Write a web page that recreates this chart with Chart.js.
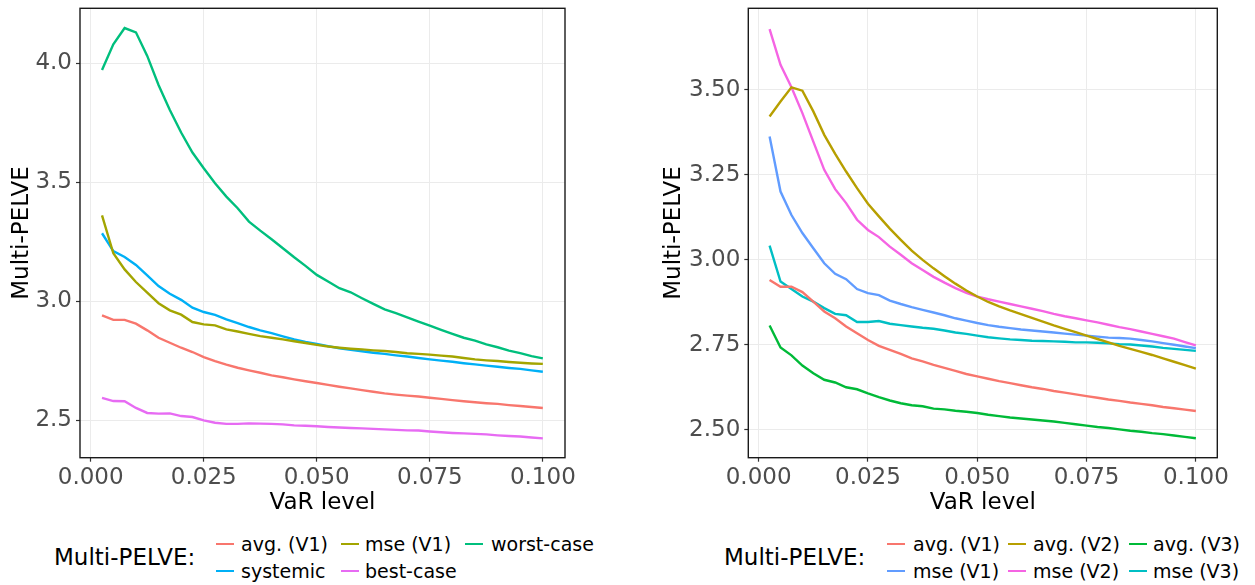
<!DOCTYPE html>
<html>
<head>
<meta charset="utf-8">
<script src="https://cdn.jsdelivr.net/npm/chart.js@4.4.1/dist/chart.umd.min.js"></script>
<style>
  body { margin: 0; background: #fff; font-family: "DejaVu Sans", sans-serif; }
  #wrap { position: relative; width: 1255px; height: 585px; overflow: hidden; }
  .panel { position: absolute; top: 0; }
  .leg-title { position: absolute; font-size: 23px; color: #000; line-height: 28px; white-space: nowrap; }
  .leg-key { position: absolute; width: 18px; height: 2.6px; }
  .leg-text { position: absolute; font-size: 19px; color: #000; line-height: 24px; white-space: nowrap; }
</style>
</head>
<body>
<div id="wrap">
  <canvas id="left" class="panel" style="left:0px" width="610" height="518"></canvas>
  <canvas id="right" class="panel" style="left:640px" width="615" height="518"></canvas>
</div>
<script>
// VaR levels on the x axis
const varLevels = [0.0025, 0.005, 0.0075, 0.01, 0.0125, 0.015, 0.0175, 0.02, 0.0225, 0.025,
  0.0275, 0.03, 0.0325, 0.035, 0.0375, 0.04, 0.0425, 0.045, 0.0475, 0.05,
  0.0525, 0.055, 0.0575, 0.06, 0.0625, 0.065, 0.0675, 0.07, 0.0725, 0.075,
  0.0775, 0.08, 0.0825, 0.085, 0.0875, 0.09, 0.0925, 0.095, 0.0975, 0.1];
const xTicks = [0, 0.025, 0.05, 0.075, 0.1];

// left panel
const leftNames = ['avg. (V1)', 'mse (V1)', 'worst-case', 'systemic', 'best-case'];
const leftColors = ['#F8766D', '#A3A500', '#00BF7D', '#00B0F6', '#E76BF3'];
const avgV1Left = [2.941, 2.922, 2.922, 2.906, 2.878, 2.847, 2.826, 2.805, 2.787, 2.766,
  2.749, 2.734, 2.721, 2.710, 2.700, 2.689, 2.681, 2.672, 2.664, 2.657,
  2.649, 2.641, 2.634, 2.627, 2.620, 2.613, 2.608, 2.604, 2.600, 2.595,
  2.590, 2.585, 2.580, 2.576, 2.572, 2.569, 2.564, 2.560, 2.556, 2.552];
const mseV1Left = [3.361, 3.202, 3.134, 3.081, 3.036, 2.992, 2.962, 2.944, 2.913, 2.903,
  2.899, 2.882, 2.873, 2.863, 2.854, 2.847, 2.840, 2.832, 2.825, 2.817,
  2.810, 2.805, 2.801, 2.798, 2.794, 2.791, 2.787, 2.782, 2.779, 2.776,
  2.772, 2.768, 2.762, 2.756, 2.752, 2.749, 2.745, 2.742, 2.739, 2.737];
const worstLeft = [3.972, 4.080, 4.148, 4.130, 4.031, 3.909, 3.804, 3.709, 3.625, 3.559,
  3.496, 3.440, 3.391, 3.335, 3.297, 3.261, 3.223, 3.185, 3.149, 3.111,
  3.083, 3.055, 3.038, 3.013, 2.989, 2.966, 2.950, 2.933, 2.915, 2.898,
  2.880, 2.863, 2.847, 2.835, 2.819, 2.807, 2.793, 2.782, 2.770, 2.760];
const systemicLeft = [3.286, 3.211, 3.186, 3.153, 3.109, 3.064, 3.032, 3.006, 2.973, 2.955,
  2.943, 2.924, 2.908, 2.892, 2.878, 2.866, 2.853, 2.840, 2.829, 2.821,
  2.812, 2.803, 2.796, 2.790, 2.784, 2.779, 2.773, 2.768, 2.762, 2.756,
  2.751, 2.746, 2.740, 2.735, 2.730, 2.725, 2.720, 2.716, 2.710, 2.704];
const bestLeft = [2.594, 2.581, 2.580, 2.552, 2.531, 2.528, 2.529, 2.518, 2.514, 2.500,
  2.490, 2.485, 2.485, 2.487, 2.486, 2.485, 2.483, 2.479, 2.477, 2.475,
  2.472, 2.470, 2.468, 2.466, 2.464, 2.462, 2.460, 2.458, 2.457, 2.453,
  2.450, 2.447, 2.445, 2.443, 2.441, 2.437, 2.434, 2.432, 2.428, 2.424];
const leftTicks = [2.5, 3.0, 3.5, 4.0];

// right panel
const rightNames = ['avg. (V1)', 'avg. (V2)', 'avg. (V3)', 'mse (V1)', 'mse (V2)', 'mse (V3)'];
const rightColors = ['#F8766D', '#B79F00', '#00BA38', '#619CFF', '#F564E3', '#00BFC4'];
const avgV1Right = [2.941, 2.921, 2.921, 2.905, 2.877, 2.848, 2.828, 2.804, 2.784, 2.764,
  2.747, 2.735, 2.723, 2.710, 2.701, 2.691, 2.682, 2.673, 2.664, 2.657,
  2.650, 2.643, 2.637, 2.631, 2.625, 2.620, 2.614, 2.609, 2.604, 2.599,
  2.594, 2.589, 2.585, 2.580, 2.576, 2.572, 2.567, 2.563, 2.559, 2.555];
const avgV2Right = [3.422, 3.466, 3.508, 3.498, 3.437, 3.368, 3.312, 3.260, 3.211, 3.165,
  3.128, 3.092, 3.059, 3.027, 3.000, 2.975, 2.952, 2.930, 2.910, 2.892,
  2.876, 2.863, 2.851, 2.840, 2.829, 2.818, 2.807, 2.797, 2.787, 2.777,
  2.767, 2.757, 2.747, 2.738, 2.729, 2.720, 2.710, 2.700, 2.690, 2.680];
const avgV3Right = [2.807, 2.742, 2.719, 2.689, 2.666, 2.647, 2.639, 2.625, 2.619, 2.607,
  2.596, 2.586, 2.578, 2.572, 2.569, 2.562, 2.560, 2.556, 2.553, 2.549,
  2.544, 2.540, 2.536, 2.533, 2.530, 2.527, 2.524, 2.520, 2.516, 2.512,
  2.508, 2.505, 2.501, 2.497, 2.494, 2.490, 2.487, 2.483, 2.479, 2.475];
const mseV1Right = [3.363, 3.201, 3.132, 3.079, 3.034, 2.990, 2.959, 2.943, 2.914, 2.902,
  2.896, 2.880, 2.870, 2.861, 2.853, 2.845, 2.837, 2.828, 2.821, 2.814,
  2.808, 2.803, 2.799, 2.795, 2.792, 2.789, 2.786, 2.783, 2.780, 2.777,
  2.774, 2.771, 2.770, 2.768, 2.764, 2.760, 2.755, 2.750, 2.745, 2.740];
const mseV2Right = [3.679, 3.574, 3.508, 3.432, 3.348, 3.265, 3.208, 3.167, 3.118, 3.088,
  3.067, 3.039, 3.015, 2.990, 2.970, 2.950, 2.933, 2.917, 2.903, 2.892,
  2.884, 2.877, 2.870, 2.863, 2.856, 2.849, 2.841, 2.834, 2.828, 2.822,
  2.816, 2.809, 2.802, 2.796, 2.789, 2.782, 2.775, 2.768, 2.758, 2.748];
const mseV3Right = [3.042, 2.936, 2.914, 2.892, 2.877, 2.858, 2.841, 2.837, 2.817, 2.817,
  2.820, 2.812, 2.808, 2.804, 2.800, 2.797, 2.792, 2.786, 2.782, 2.777,
  2.772, 2.769, 2.766, 2.764, 2.762, 2.761, 2.760, 2.759, 2.757, 2.757,
  2.756, 2.754, 2.752, 2.751, 2.748, 2.745, 2.741, 2.738, 2.735, 2.732];
const rightTicks = [2.5, 2.75, 3.0, 3.25, 3.5];

// ggplot-like panel border drawn over the lines
const frame = {
  id: 'frame',
  afterDatasetsDraw(chart) {
    const a = chart.chartArea, ctx = chart.ctx;
    ctx.save();
    ctx.strokeStyle = '#1a1a1a';
    ctx.lineWidth = 1.4;
    ctx.strokeRect(a.left, a.top, a.right - a.left, a.bottom - a.top);
    ctx.restore();
  }
};

function makeChart(id, names, colors, series, cfg) {
  const datasets = series.map((vals, i) => ({
    label: names[i],
    data: vals.map((v, j) => ({ x: varLevels[j], y: v })),
    borderColor: colors[i],
    backgroundColor: colors[i],
    borderWidth: 2.4,
    pointRadius: 0,
    tension: 0,
    fill: false
  }));
  const el = document.getElementById(id);
  return new Chart(el, {
    type: 'line',
    data: { datasets },
    plugins: [frame],
    options: {
      responsive: false,
      animation: false,
      devicePixelRatio: 1,
      layout: { padding: { left: 0, top: 8.3, right: el.width - cfg.plotRight, bottom: 0 } },
      plugins: { legend: { display: false }, tooltip: { enabled: false } },
      scales: {
        x: {
          type: 'linear',
          min: -0.00237,
          max: 0.1049,
          afterBuildTicks: s => { s.ticks = xTicks.map(v => ({ value: v })); },
          afterFit: s => { s.height = el.height - 457.7; s.paddingLeft = 0; s.paddingRight = 0; },
          ticks: {
            color: '#4D4D4D', padding: 3, maxRotation: 0,
            font: { family: 'DejaVu Sans', size: 23 },
            callback: v => v.toFixed(3)
          },
          grid: { color: '#EBEBEB', lineWidth: 1, tickLength: 4, tickColor: '#333', tickWidth: 1.2 },
          border: { display: false },
          title: {
            display: true, text: 'VaR level', color: '#000',
            font: { family: 'DejaVu Sans', size: 23 }, padding: { top: 0, bottom: 1 }
          }
        },
        y: {
          min: cfg.yMin,
          max: cfg.yMax,
          afterBuildTicks: s => { s.ticks = cfg.yTicks.map(v => ({ value: v })); },
          afterFit: s => { s.width = cfg.plotLeft; s.paddingTop = 0; s.paddingBottom = 0; },
          ticks: {
            color: '#4D4D4D', padding: 4,
            font: { family: 'DejaVu Sans', size: 23 },
            callback: v => v.toFixed(cfg.digits)
          },
          grid: { color: '#EBEBEB', lineWidth: 1, tickLength: 4, tickColor: '#333', tickWidth: 1.2 },
          border: { display: false },
          title: {
            display: true, text: 'Multi-PELVE', color: '#000',
            font: { family: 'DejaVu Sans', size: 23 }, padding: { top: cfg.titlePad, bottom: 0 }
          }
        }
      }
    }
  });
}

makeChart('left', leftNames, leftColors,
  [avgV1Left, mseV1Left, worstLeft, systemicLeft, bestLeft],
  { plotLeft: 80, plotRight: 565, yMin: 2.343, yMax: 4.231, yTicks: leftTicks, digits: 1, titlePad: 8 });
makeChart('right', rightNames, rightColors,
  [avgV1Right, avgV2Right, avgV3Right, mseV1Right, mseV2Right, mseV3Right],
  { plotLeft: 108.3, plotRight: 577.3, yMin: 2.4176, yMax: 3.7405, yTicks: rightTicks, digits: 2, titlePad: 20 });

// legends below each panel, three columns, filled by row
function makeLegend(names, colors, titleX, keyXs, textXs) {
  const wrap = document.getElementById('wrap');
  const t = document.createElement('div');
  t.className = 'leg-title';
  t.textContent = 'Multi-PELVE:';
  t.style.left = titleX + 'px';
  t.style.top = (557 - 14) + 'px';
  wrap.appendChild(t);
  const rowY = [544, 571];
  names.forEach((n, i) => {
    const r = Math.floor(i / 3), c = i % 3;
    const k = document.createElement('div');
    k.className = 'leg-key';
    k.style.background = colors[i];
    k.style.left = keyXs[c] + 'px';
    k.style.top = (rowY[r] - 1.3) + 'px';
    wrap.appendChild(k);
    const s = document.createElement('div');
    s.className = 'leg-text';
    s.textContent = n;
    s.style.left = textXs[c] + 'px';
    s.style.top = (rowY[r] - 12) + 'px';
    wrap.appendChild(s);
  });
}
makeLegend(leftNames, leftColors, 54, [216, 341, 465], [241, 365, 491]);
makeLegend(rightNames, rightColors, 724, [887, 1008, 1129], [913, 1033, 1153]);
</script>
</body>
</html>
